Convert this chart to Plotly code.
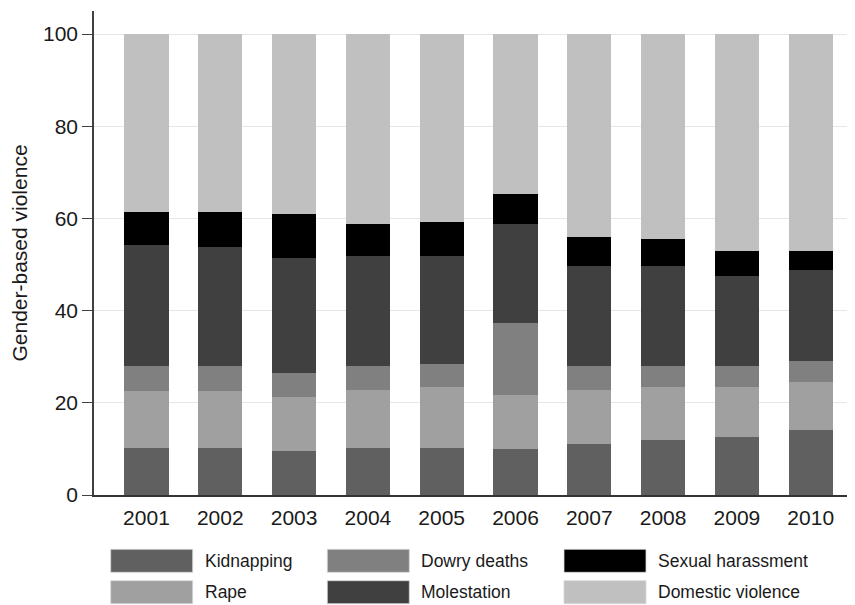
import plotly.graph_objects as go

years = [2001, 2002, 2003, 2004, 2005, 2006, 2007, 2008, 2009, 2010]
kidnapping = [10.3, 10.1, 9.5, 10.1, 10.3, 9.9, 11.0, 11.9, 12.5, 14.0]
rape = [12.2, 12.4, 11.8, 12.7, 13.1, 11.8, 11.8, 11.5, 10.9, 10.6]
dowry_deaths = [5.4, 5.4, 5.1, 5.1, 5.1, 15.6, 5.1, 4.5, 4.5, 4.4]
molestation = [26.3, 26.0, 25.1, 23.9, 23.3, 21.6, 21.8, 21.8, 19.7, 19.8]
sexual_harassment = [7.1, 7.4, 9.5, 6.9, 7.4, 6.5, 6.3, 5.9, 5.4, 4.2]
domestic_violence = [38.7, 38.7, 39.0, 41.3, 40.8, 34.6, 44.0, 44.4, 47.0, 47.0]

series = [
    ("Kidnapping", kidnapping, "#606060"),
    ("Rape", rape, "#a0a0a0"),
    ("Dowry deaths", dowry_deaths, "#808080"),
    ("Molestation", molestation, "#404040"),
    ("Sexual harassment", sexual_harassment, "#000000"),
    ("Domestic violence", domestic_violence, "#c0c0c0"),
]

# page body has an 8px margin; size the figure to fill the rest of the window
OFF = 8
W, H = 855 - OFF, 605 - OFF
# plot area in window pixels: x 94..855, y 11..495
L, R, T, B = 94 - OFF, 0, 11 - OFF, 605 - 495
PW, PH = W - L - R, H - T - B

fig = go.Figure()
for name, vals, col in series:
    fig.add_trace(go.Bar(x=years, y=vals, name=name, width=0.6,
                         marker=dict(color=col, line=dict(width=0)),
                         showlegend=False))

# custom legend (2 rows x 3 columns), positions in window pixels
leg_cols_x = [110.7, 327.3, 564.0]
leg_rows_y = [549.3, 580.7]
sw_w, sw_h = 82, 23
order = [["Kidnapping", "Rape"], ["Dowry deaths", "Molestation"],
         ["Sexual harassment", "Domestic violence"]]
colors = {n: c for n, _, c in series}

def px2paper_x(px):
    return (px - OFF - L) / PW

def px2paper_y(py):
    return (H - B - (py - OFF)) / PH

for ci, col_names in enumerate(order):
    for ri, nm in enumerate(col_names):
        x0 = leg_cols_x[ci]
        y0 = leg_rows_y[ri]
        fig.add_shape(type="rect", xref="paper", yref="paper",
                      x0=px2paper_x(x0), x1=px2paper_x(x0 + sw_w),
                      y0=px2paper_y(y0), y1=px2paper_y(y0 + sw_h),
                      fillcolor=colors[nm], line=dict(color="#d8d8d8", width=0.8))
        fig.add_annotation(xref="paper", yref="paper",
                           x=px2paper_x(x0 + sw_w + 10), y=px2paper_y(y0 + sw_h / 2),
                           text=nm, showarrow=False, xanchor="left", yanchor="middle",
                           font=dict(family="Liberation Sans, Arial", size=17.5, color="#1a1a1a"))

fig.update_layout(
    width=W, height=H,
    margin=dict(l=L, r=R, t=T, b=B),
    barmode="stack",
    plot_bgcolor="white", paper_bgcolor="white",
    font=dict(family="Liberation Sans, Arial", color="#1a1a1a"),
)
fig.update_xaxes(range=[2000.289, 2010.6], tickvals=years, ticktext=[str(y) for y in years],
                 showline=True, linecolor="#333333", linewidth=2, showgrid=False,
                 ticks="outside", ticklen=3, tickcolor="rgba(0,0,0,0)",
                 tickfont=dict(size=21, color="#1a1a1a"), zeroline=False)
fig.update_yaxes(range=[0, 105], tickvals=[0, 20, 40, 60, 80, 100],
                 showline=True, linecolor="#404040", linewidth=1.5,
                 ticks="outside", ticklen=10, tickcolor="#404040", tickwidth=1.2,
                 gridcolor="#e6e6e6", gridwidth=1, zeroline=False,
                 tickfont=dict(size=21, color="#1a1a1a"),
                 title=dict(text="Gender-based violence", font=dict(size=21, color="#1a1a1a"),
                            standoff=10))

fig.write_html("out.html")
